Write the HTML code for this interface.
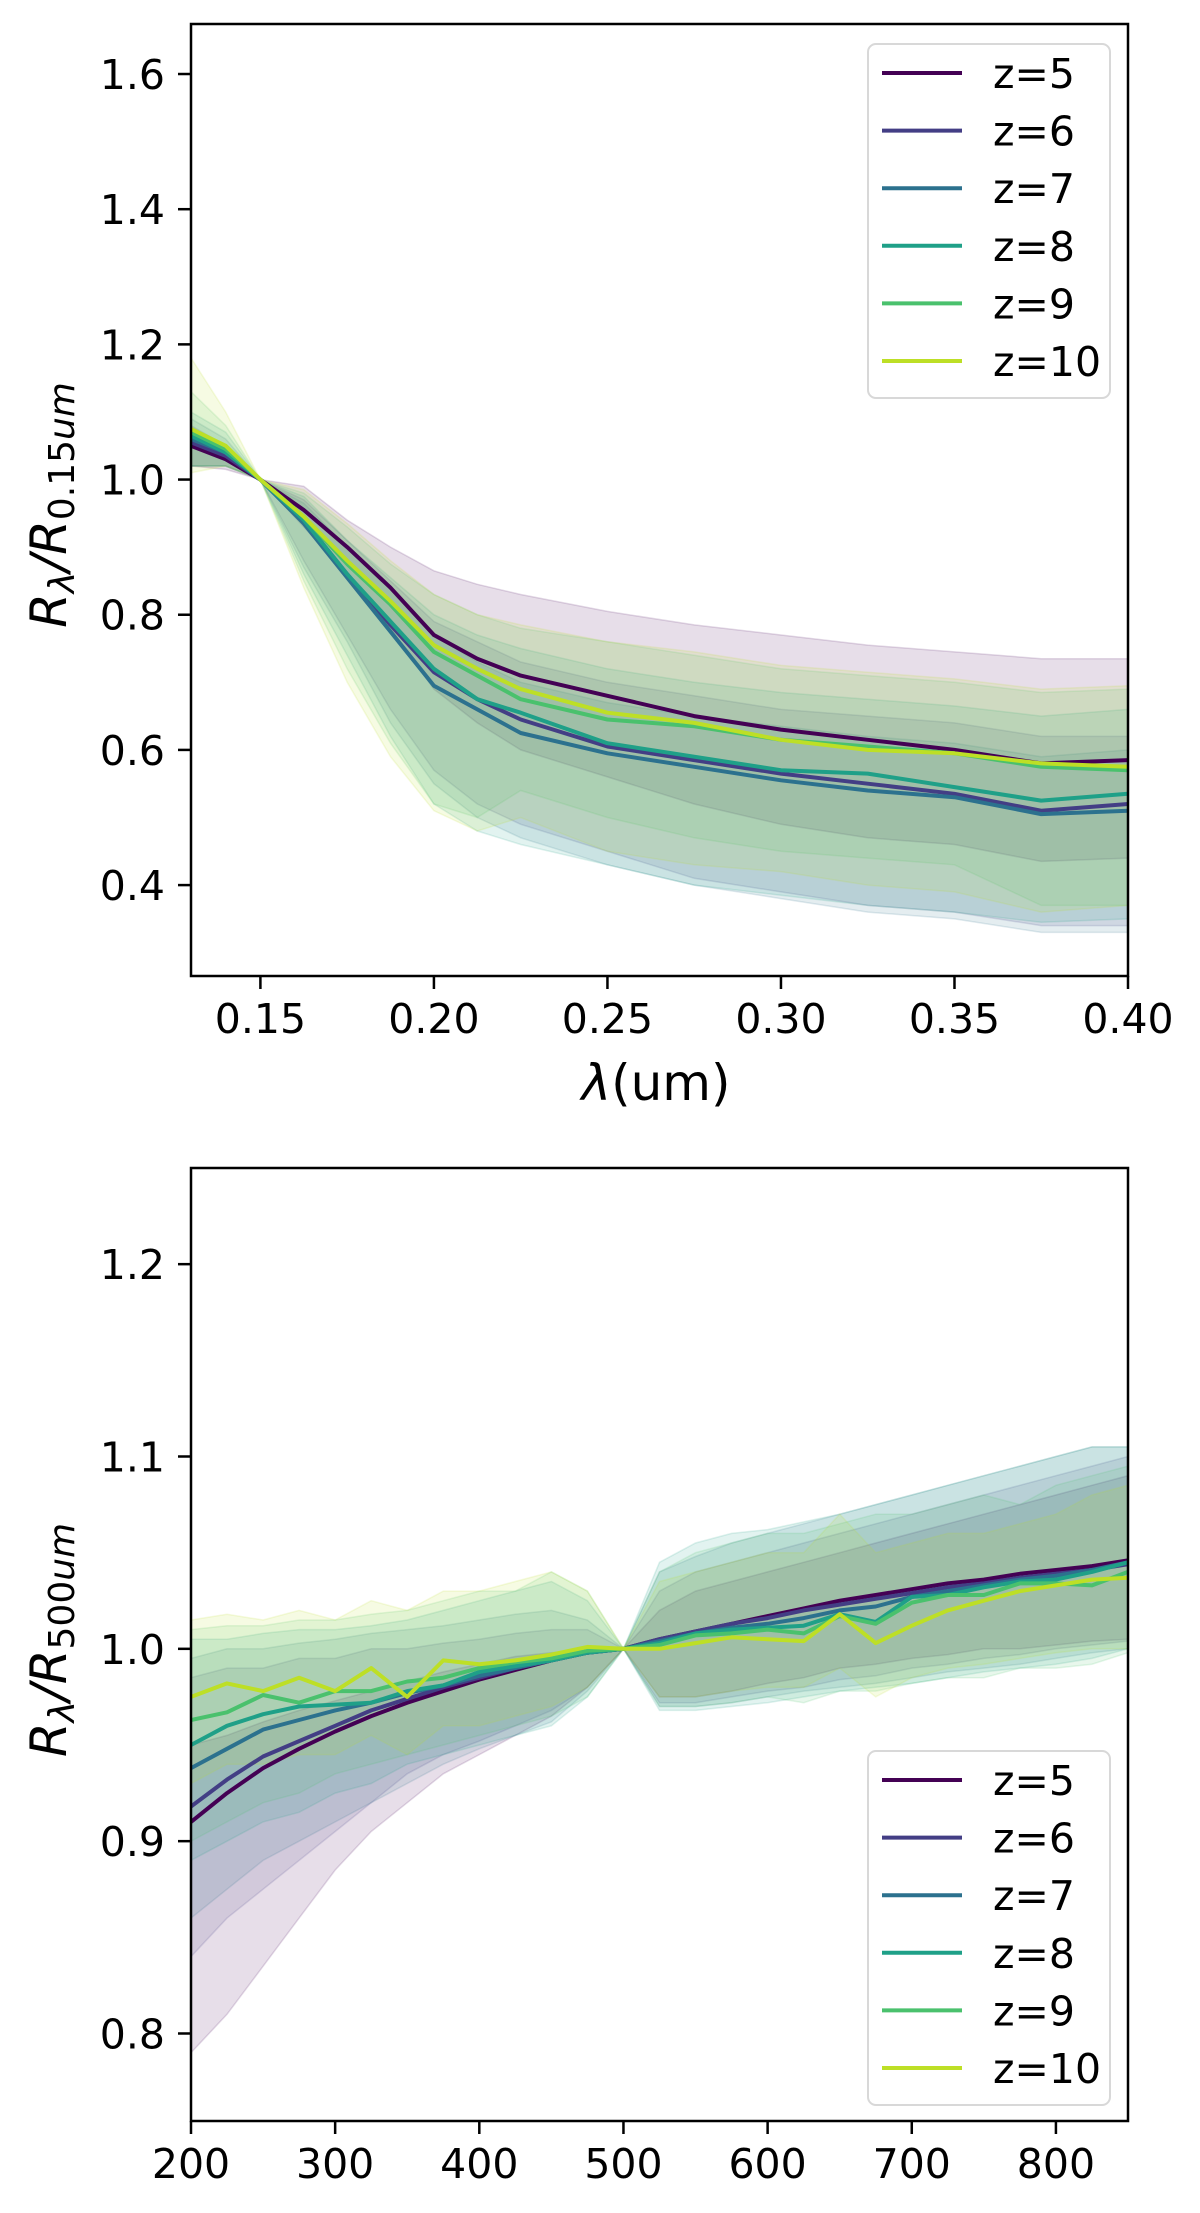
<!DOCTYPE html>
<html><head><meta charset="utf-8"><style>
html,body{margin:0;padding:0;background:#fff;}
svg text{font-family:"DejaVu Sans","Liberation Sans",sans-serif;fill:#000;}
</style></head><body>
<svg id="fig" width="1200" height="2208" viewBox="0 0 1200 2208" xmlns="http://www.w3.org/2000/svg"></svg>
<script>
const seriesNames = ["z=5","z=6","z=7","z=8","z=9","z=10"];
const colors = ["#440154","#433e85","#2c718e","#1fa088","#4ac16d","#bddf26"];

// Top panel data
const topX = [0.13,0.14,0.15,0.1625,0.175,0.1875,0.2,0.2125,0.225,0.25,0.275,0.3,0.325,0.35,0.375,0.4];
const topZ5  = [1.05,1.03,1.0,0.955,0.90,0.84,0.77,0.735,0.71,0.68,0.65,0.63,0.615,0.60,0.58,0.585];
const topZ6  = [1.055,1.035,1.0,0.94,0.86,0.785,0.715,0.675,0.645,0.605,0.585,0.565,0.55,0.535,0.51,0.52];
const topZ7  = [1.06,1.04,1.0,0.935,0.855,0.775,0.695,0.66,0.625,0.595,0.575,0.555,0.54,0.53,0.505,0.51];
const topZ8  = [1.065,1.04,1.0,0.94,0.86,0.79,0.72,0.675,0.655,0.61,0.59,0.57,0.565,0.545,0.525,0.535];
const topZ9  = [1.07,1.045,1.0,0.945,0.875,0.815,0.745,0.71,0.675,0.645,0.635,0.615,0.605,0.595,0.575,0.57];
const topZ10 = [1.075,1.05,1.0,0.945,0.88,0.82,0.755,0.72,0.69,0.655,0.64,0.615,0.60,0.595,0.58,0.575];
const topHi5  = [1.07,1.04,1.0,0.99,0.94,0.90,0.865,0.845,0.83,0.805,0.785,0.77,0.755,0.745,0.735,0.735];
const topLo5  = [1.02,1.015,1.0,0.93,0.86,0.78,0.69,0.64,0.60,0.56,0.52,0.49,0.47,0.46,0.435,0.44];
const topHi6  = [1.08,1.05,1.0,0.97,0.91,0.85,0.79,0.76,0.73,0.70,0.68,0.66,0.65,0.64,0.62,0.62];
const topLo6  = [1.02,1.02,1.0,0.88,0.77,0.66,0.57,0.52,0.49,0.45,0.41,0.39,0.37,0.36,0.34,0.34];
const topHi7  = [1.09,1.06,1.0,0.965,0.90,0.84,0.77,0.73,0.70,0.67,0.65,0.635,0.62,0.61,0.59,0.60];
const topLo7  = [1.02,1.02,1.0,0.87,0.76,0.64,0.55,0.50,0.47,0.43,0.40,0.38,0.36,0.35,0.33,0.33];
const topHi8  = [1.10,1.07,1.0,0.975,0.91,0.855,0.80,0.77,0.75,0.72,0.70,0.685,0.675,0.665,0.65,0.66];
const topLo8  = [1.02,1.02,1.0,0.86,0.74,0.62,0.52,0.48,0.46,0.43,0.40,0.385,0.37,0.36,0.345,0.35];
const topHi9  = [1.13,1.08,1.0,0.98,0.93,0.875,0.83,0.80,0.78,0.76,0.74,0.72,0.71,0.70,0.685,0.69];
const topLo9  = [1.02,1.02,1.0,0.85,0.72,0.61,0.52,0.50,0.54,0.50,0.47,0.45,0.44,0.43,0.37,0.37];
const topHi10 = [1.18,1.10,1.0,0.985,0.935,0.88,0.83,0.80,0.785,0.76,0.745,0.725,0.715,0.705,0.69,0.695];
const topLo10 = [1.01,1.02,1.0,0.84,0.70,0.59,0.51,0.48,0.50,0.45,0.43,0.42,0.40,0.39,0.36,0.37];
const topXTicks = [0.15,0.20,0.25,0.30,0.35,0.40];
const topXTickLabels = ["0.15","0.20","0.25","0.30","0.35","0.40"];
const topYTicks = [0.4,0.6,0.8,1.0,1.2,1.4,1.6];
const topYTickLabels = ["0.4","0.6","0.8","1.0","1.2","1.4","1.6"];

// Bottom panel data
const botX = [200,225,250,275,300,325,350,375,400,425,450,475,500,525,550,575,600,625,650,675,700,725,750,775,800,825,850];
const botZ5  = [.91,.925,.938,.948,.957,.965,.972,.978,.984,.989,.994,.998,1.0,1.005,1.009,1.013,1.017,1.021,1.025,1.028,1.031,1.034,1.036,1.039,1.041,1.043,1.046];
const botZ6  = [.918,.932,.944,.952,.96,.968,.974,.98,.985,.99,.994,.998,1.0,1.005,1.009,1.013,1.016,1.02,1.023,1.026,1.029,1.032,1.034,1.037,1.039,1.041,1.044];
const botZ7  = [.938,.948,.958,.963,.968,.972,.977,.981,.986,.99,.994,.998,1.0,1.004,1.008,1.011,1.013,1.016,1.02,1.022,1.027,1.03,1.033,1.036,1.038,1.041,1.045];
const botZ8  = [.95,.96,.966,.97,.971,.972,.978,.981,.988,.991,.994,.998,1.0,1.003,1.008,1.01,1.011,1.012,1.018,1.014,1.027,1.028,1.032,1.035,1.036,1.04,1.045];
const botZ9  = [.963,.967,.976,.972,.978,.978,.983,.985,.99,.993,.995,.999,1.0,1.002,1.007,1.008,1.01,1.008,1.017,1.013,1.024,1.028,1.028,1.034,1.034,1.033,1.04];
const botZ10 = [.975,.982,.978,.985,.978,.99,.975,.994,.992,.994,.997,1.001,1.0,1.0,1.003,1.006,1.005,1.004,1.018,1.003,1.012,1.02,1.025,1.03,1.033,1.036,1.037];
const botHi5  = [.95,.955,.962,.968,.973,.978,.983,.988,.992,.996,.998,.999,1.0,1.02,1.03,1.035,1.04,1.045,1.05,1.055,1.06,1.065,1.07,1.075,1.08,1.085,1.09];
const botLo5  = [.79,.81,.835,.86,.885,.905,.92,.935,.945,.955,.965,.98,1.0,.975,.975,.978,.982,.985,.99,.992,.995,.997,1.0,1.0,1.002,1.004,1.005];
const botHi6  = [.985,.99,.99,.995,.995,1.0,1.0,1.003,1.005,1.008,1.01,1.01,1.0,1.03,1.04,1.045,1.05,1.055,1.06,1.065,1.07,1.075,1.08,1.085,1.09,1.095,1.1];
const botLo6  = [.84,.86,.875,.89,.905,.92,.935,.945,.952,.96,.968,.98,1.0,.972,.972,.975,.978,.98,.984,.986,.99,.992,.995,.997,1.0,1.002,1.004];
const botHi7  = [.995,1.0,1.0,1.003,1.005,1.008,1.01,1.012,1.015,1.018,1.02,1.015,1.0,1.04,1.048,1.055,1.06,1.065,1.07,1.075,1.08,1.085,1.09,1.095,1.1,1.105,1.105];
const botLo7  = [.86,.875,.89,.9,.91,.92,.93,.94,.948,.955,.962,.978,1.0,.97,.97,.972,.975,.978,.98,.982,.985,.988,.99,.992,.995,.998,1.0];
const botHi8  = [1.005,1.005,1.008,1.01,1.01,1.012,1.015,1.02,1.025,1.03,1.035,1.025,1.0,1.045,1.055,1.06,1.062,1.066,1.07,1.075,1.08,1.085,1.09,1.095,1.1,1.105,1.105];
const botLo8  = [.89,.9,.91,.915,.925,.93,.94,.945,.95,.955,.96,.975,1.0,.968,.968,.97,.972,.975,.978,.98,.982,.985,.988,.99,.992,.995,1.0];
const botHi9  = [1.01,1.012,1.012,1.015,1.015,1.018,1.02,1.025,1.03,1.03,1.04,1.03,1.0,1.04,1.05,1.055,1.06,1.06,1.065,1.07,1.07,1.075,1.08,1.075,1.085,1.09,1.095];
const botLo9  = [.9,.91,.92,.925,.935,.94,.945,.95,.955,.96,.965,.975,1.0,.97,.97,.972,.975,.972,.978,.978,.982,.985,.985,.99,.99,.992,.998];
const botHi10 = [1.015,1.018,1.015,1.02,1.015,1.025,1.02,1.03,1.03,1.035,1.04,1.03,1.0,1.035,1.04,1.045,1.05,1.05,1.07,1.05,1.055,1.06,1.06,1.065,1.07,1.08,1.085];
const botLo10 = [.93,.94,.94,.945,.945,.955,.945,.96,.96,.965,.97,.98,1.0,.975,.975,.978,.98,.98,.99,.975,.985,.99,.992,.995,.998,1.0,1.0];
const botXTicks = [200,300,400,500,600,700,800];
const botXTickLabels = ["200","300","400","500","600","700","800"];
const botYTicks = [0.8,0.9,1.0,1.1,1.2];
const botYTickLabels = ["0.8","0.9","1.0","1.1","1.2"];

const NS = "http://www.w3.org/2000/svg";
const svg = document.getElementById("fig");
function mk(tag, attrs, parent){
  const e = document.createElementNS(NS, tag);
  for (const k in attrs) e.setAttribute(k, attrs[k]);
  (parent||svg).appendChild(e);
  return e;
}

function panel(cfg){
  const g = mk("g", {});
  
  
  const L=191, R=1128, T=cfg.top, B=cfg.bottom;
  const sx = v => L + (v - cfg.xmin) / (cfg.xmax - cfg.xmin) * (R - L);
  const sy = v => B - (v - cfg.ymin) / (cfg.ymax - cfg.ymin) * (B - T);
  const clipId = cfg.name + "-clip";
  const defs = mk("defs", {}, g);
  const cp = mk("clipPath", {id: clipId}, defs);
  mk("rect", {x:L, y:T, width:R-L, height:B-T}, cp);
  const plot = mk("g", {"clip-path": "url(#"+clipId+")"}, g);
  // bands
  for (let s=0; s<6; s++){
    const hi = cfg.hi[s], lo = cfg.lo[s];
    let d = "";
    cfg.x.forEach((xv,i)=>{ d += (i?"L":"M") + sx(xv).toFixed(1) + "," + sy(hi[i]).toFixed(1); });
    for (let i=cfg.x.length-1;i>=0;i--) d += "L" + sx(cfg.x[i]).toFixed(1) + "," + sy(lo[i]).toFixed(1);
    d += "Z";
    const p = mk("path", {d, fill: colors[s], "fill-opacity": 0.13, stroke: colors[s], "stroke-opacity": 0.15, "stroke-width": 1.5}, plot);
    
    
  }
  // lines
  for (let s=0; s<6; s++){
    const ys = cfg.y[s];
    const d = cfg.x.map((xv,i)=>(i?"L":"M") + sx(xv).toFixed(1) + "," + sy(ys[i]).toFixed(1)).join("");
    const p = mk("path", {d, fill:"none", stroke: colors[s], "stroke-width": 4, "stroke-linejoin":"round"}, plot);
    
    
  }
  // frame
  const fr = mk("rect", {x:L, y:T, width:R-L, height:B-T, fill:"none", stroke:"#000", "stroke-width":2.5}, g);
  
  
  // x ticks
  cfg.xt.forEach((v,i)=>{
    const x = sx(v);
    mk("line", {x1:x, x2:x, y1:B, y2:B+13, stroke:"#000", "stroke-width":2.5}, g);
    const t = mk("text", {x:x, y:B+57, "text-anchor":"middle", "font-size":41}, g);
    t.textContent = cfg.xtl[i];
    
    
  });
  cfg.yt.forEach((v,i)=>{
    const y = sy(v);
    mk("line", {x1:L-13, x2:L, y1:y, y2:y, stroke:"#000", "stroke-width":2.5}, g);
    const t = mk("text", {x:L-26, y:y+15, "text-anchor":"end", "font-size":41}, g);
    t.textContent = cfg.ytl[i];
    
    
  });
  // y title
  const yt = mk("text", {x:0, y:0, "font-size":50, "text-anchor":"middle", transform:"translate(66,"+cfg.ytitleY+") rotate(-90)"}, g);
  
  
  const a = mk("tspan", {"font-style":"italic"}, yt); a.textContent = "R";
  const b = mk("tspan", {"font-style":"italic", "font-size":36, dy:8}, yt); b.textContent = "λ";
  const c = mk("tspan", {"font-style":"italic", dy:-8}, yt); c.textContent = "/R";
  const d1 = mk("tspan", {"font-size":36, dy:8}, yt); d1.textContent = cfg.sub;
  const e1 = mk("tspan", {"font-size":36, "font-style":"italic"}, yt); e1.textContent = "um";
  // legend
  const lg = mk("g", {}, g);
  
  
  mk("rect", {x:868, y:cfg.legTop, width:242, height:354, rx:8, fill:"#fff", "fill-opacity":0.85, stroke:"#d8d8d8", "stroke-width":2}, lg);
  for (let s=0; s<6; s++){
    const y = cfg.legTop + 29 + s*57.6;
    const en = mk("g", {}, lg);
    
    
    mk("line", {x1:882, x2:962, y1:y, y2:y, stroke:colors[s], "stroke-width":4}, en);
    const t = mk("text", {x:993, y:y+15, "font-size":41}, en);
    t.textContent = seriesNames[s];
  }
  return {sx, sy};
}

panel({name:"top-chart", top:24, bottom:976, xmin:0.13, xmax:0.40, ymin:0.2655, ymax:1.674,
  x: topX, y:[topZ5,topZ6,topZ7,topZ8,topZ9,topZ10],
  hi:[topHi5,topHi6,topHi7,topHi8,topHi9,topHi10], lo:[topLo5,topLo6,topLo7,topLo8,topLo9,topLo10],
  xt: topXTicks, xtl: topXTickLabels, yt: topYTicks, ytl: topYTickLabels,
  ytitleY: 505, sub:"0.15", legTop:44});

panel({name:"bottom-chart", top:1168, bottom:2121, xmin:200, xmax:850, ymin:0.7545, ymax:1.25,
  x: botX, y:[botZ5,botZ6,botZ7,botZ8,botZ9,botZ10],
  hi:[botHi5,botHi6,botHi7,botHi8,botHi9,botHi10], lo:[botLo5,botLo6,botLo7,botLo8,botLo9,botLo10],
  xt: botXTicks, xtl: botXTickLabels, yt: botYTicks, ytl: botYTickLabels,
  ytitleY: 1640, sub:"500", legTop:1751});

const xl = mk("text", {x:656, y:1100, "text-anchor":"middle", "font-size":50});


const xl1 = mk("tspan", {"font-style":"italic"}, xl); xl1.textContent = "λ";
const xl2 = mk("tspan", {}, xl); xl2.textContent = "(um)";
</script>
</body></html>
